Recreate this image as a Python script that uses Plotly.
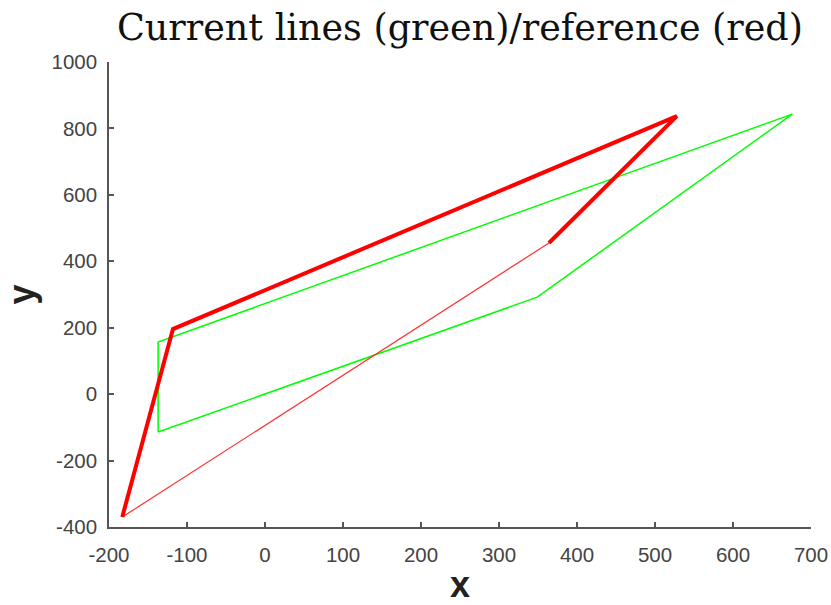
import plotly.graph_objects as go

# Reference polyline: thick segments, then a thin closing segment
ref_thick_x = [-183, -118, 528, 364]
ref_thick_y = [-370, 196, 837, 455]
ref_thin_x = [364, -183]
ref_thin_y = [455, -370]

# Current lines (closed polygon)
cur_x = [-137, -137, 676, 349, -137]
cur_y = [-114, 157, 843, 292, -114]

x_ticks = [-200, -100, 0, 100, 200, 300, 400, 500, 600, 700]
y_ticks = [-400, -200, 0, 200, 400, 600, 800, 1000]

fig = go.Figure()
fig.add_trace(go.Scatter(x=cur_x, y=cur_y, mode="lines",
                         line=dict(color="#00ff00", width=1.5)))
fig.add_trace(go.Scatter(x=ref_thin_x, y=ref_thin_y, mode="lines",
                         line=dict(color="#ff3030", width=1.2)))
fig.add_trace(go.Scatter(x=ref_thick_x, y=ref_thick_y, mode="lines",
                         line=dict(color="#ff0000", width=4)))

axis_common = dict(
    showgrid=False, zeroline=False, showline=True, linecolor="#555555",
    linewidth=1.5, ticks="inside", ticklen=5, tickwidth=1.5, tickcolor="#555555",
    tickfont=dict(family="Liberation Sans, Arial, sans-serif", size=20.5, color="#444444"),
    mirror=False, automargin=False,
)

fig.update_layout(
    width=831, height=605,
    margin=dict(l=109, r=20, t=62, b=78),
    paper_bgcolor="white", plot_bgcolor="white",
    showlegend=False,
    title=dict(text="Current lines (green)/reference (red)",
               font=dict(family="DejaVu Serif, serif", size=36.5, color="#111111"),
               x=0.5535, xanchor="center", y=0.955, yanchor="middle"),
    xaxis=dict(range=[-200, 700], tickvals=x_ticks,
               ticktext=[str(v) for v in x_ticks], ticklabelstandoff=9,
               title=dict(text="<b>x</b>", standoff=12,
                          font=dict(family="Liberation Sans, Arial, sans-serif", size=36, color="#222222")),
               **axis_common),
    yaxis=dict(range=[-400, 1000], tickvals=y_ticks,
               ticktext=[str(v) for v in y_ticks], ticklabelstandoff=6,
               title=dict(text="<b>y</b>", standoff=6,
                          font=dict(family="Liberation Sans, Arial, sans-serif", size=36, color="#222222")),
               **axis_common),
)

fig.write_html("out.html")
